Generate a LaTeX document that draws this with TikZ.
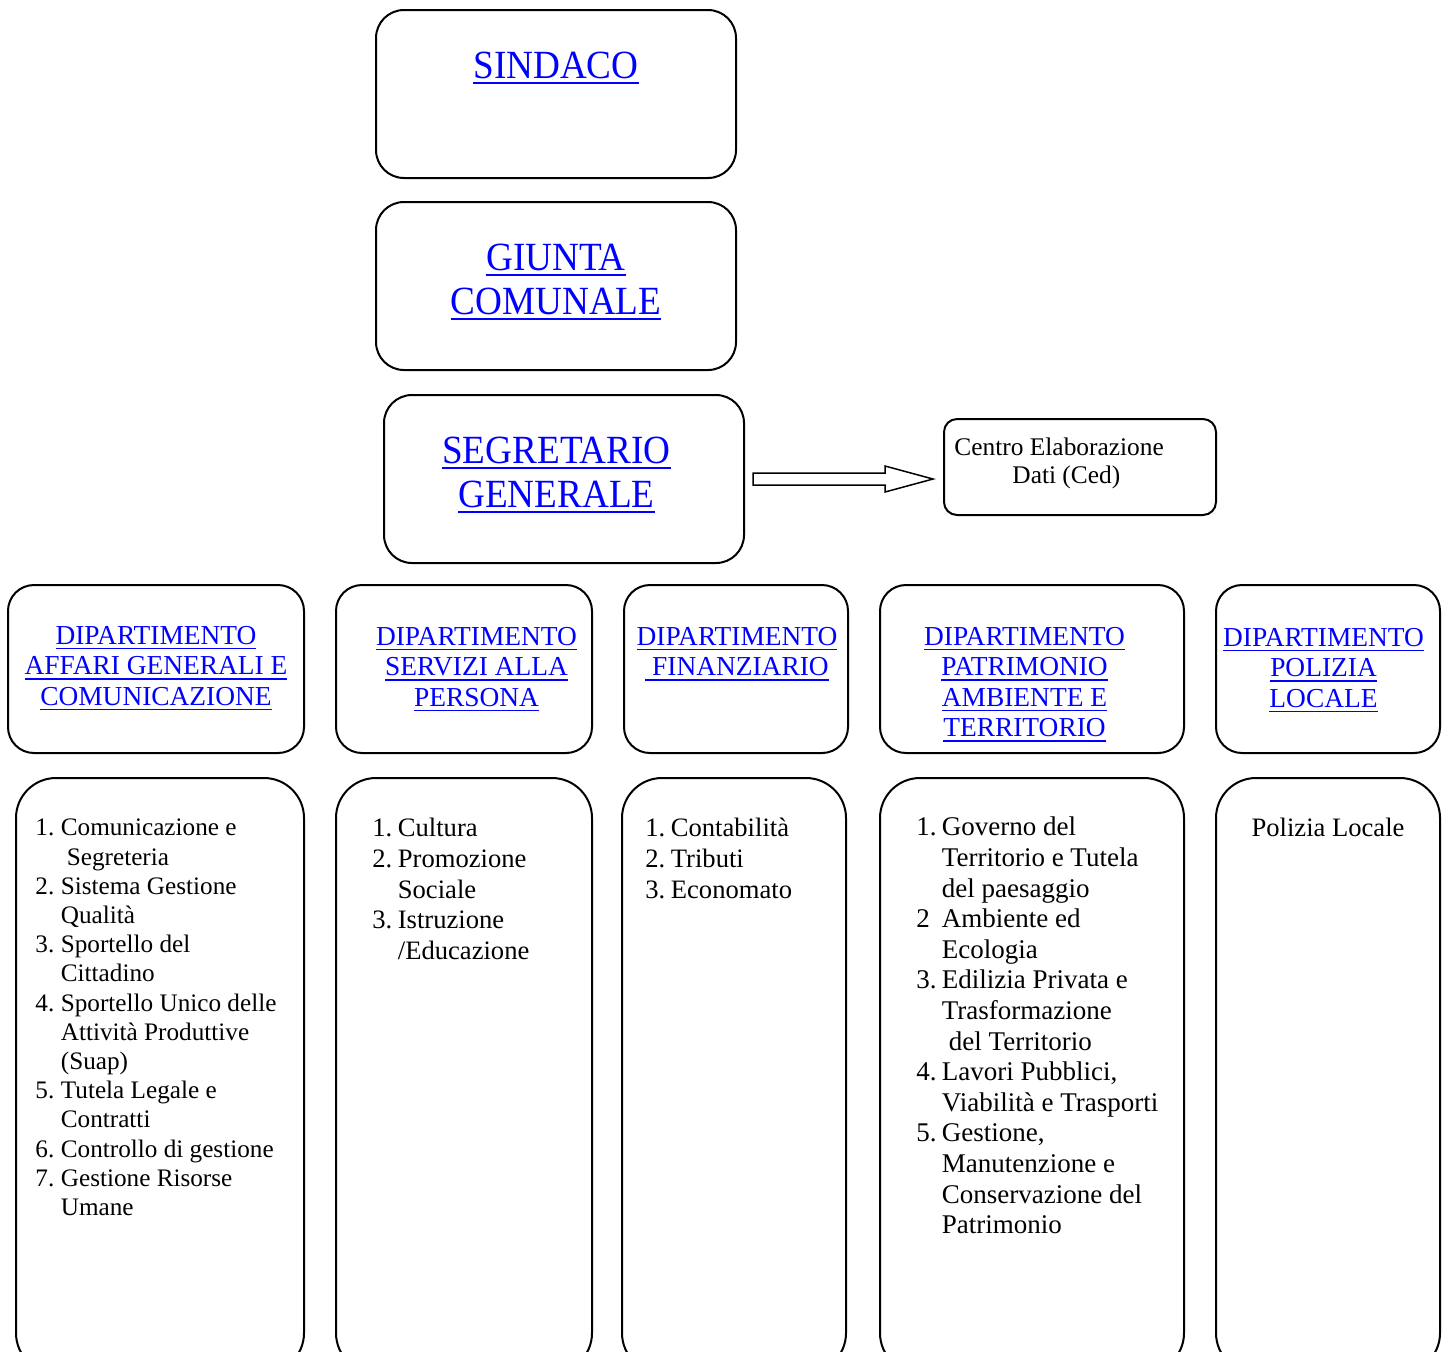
\documentclass[tikz,border=0pt]{standalone}
\usepackage{fontspec}
\setmainfont{Liberation Serif}
\newfontfamily\condserif[FakeStretch=0.93]{Liberation Serif}
\usetikzlibrary{calc}
\definecolor{linkblue}{RGB}{0,0,255}
\newsavebox\ulkbox
\newcommand\ulbig[1]{\sbox\ulkbox{#1}\rlap{\rule[-2.8pt]{\wd\ulkbox}{1pt}}\usebox\ulkbox}
\newcommand\ulsm[1]{\sbox\ulkbox{#1}\rlap{\rule[-2.4pt]{\wd\ulkbox}{0.75pt}}\usebox\ulkbox}
\newcommand\fls{\rule{0pt}{12pt}}
\newcommand\flb{\rule{0pt}{16pt}}
\newcommand\itm[1]{\makebox[12.75pt][l]{#1}}
\newcommand\cnt{\hspace*{12.75pt}}
\begin{document}
\begin{tikzpicture}[x=0.5pt,y=-0.5pt,
  topbox/.style={draw=black, line width=1pt, rounded corners=14pt, minimum width=180pt, minimum height=84pt, inner sep=0pt},
  cedbox/.style={draw=black, line width=1pt, rounded corners=6.5pt, minimum width=136pt, minimum height=48pt, inner sep=0pt},
  deptbox/.style={draw=black, line width=1pt, rounded corners=13pt, minimum width=#1, minimum height=84pt, inner sep=0pt},
  listbox/.style={draw=black, line width=1pt, rounded corners=20pt, minimum width=#1, minimum height=297.5pt, inner sep=0pt},
  bighead/.style={text=linkblue, font={\condserif\fontsize{20}{22}\selectfont}, align=center, anchor=north, inner sep=0pt},
  depthead/.style={text=linkblue, font={\fontsize{13.7}{15.25}\selectfont}, align=center, anchor=north, inner sep=0pt},
  listtext/.style={font={\fontsize{13.3}{15.3}\selectfont}, align=left, anchor=north west, inner sep=0pt},
  blockarrow/.style={draw=black, line width=0.75pt, line join=miter}
]
\useasboundingbox (0,0) rectangle (1449,1351);
\clip (0,0) rectangle (1449,1351);

% boxes
\node[topbox] (sind) at (556,94) {};
\node[topbox] (giun) at (556,286) {};
\node[topbox] (seg) at (564,479) {};
\node[cedbox] (ced) at (1080,467) {};
\node[deptbox=148pt] (d1) at (156,669) {};
\node[deptbox=128pt] (d2) at (464,669) {};
\node[deptbox=112pt] (d3) at (736,669) {};
\node[deptbox=152pt] (d4) at (1032,669) {};
\node[deptbox=112pt] (d5) at (1328,669) {};
\node[listbox=144pt] (b1) at (160,1075.5) {};
\node[listbox=128pt] (b2) at (464,1075.5) {};
\node[listbox=112pt] (b3) at (734,1075.5) {};
\node[listbox=152pt] (b4) at (1032,1075.5) {};
\node[listbox=112pt] (b5) at (1328,1075.5) {};

% headings
\node[bighead] (tsind) at (556,46) {\flb\ulbig{SINDACO}};
\node[bighead] (tgiun) at (556,238) {\flb\ulbig{GIUNTA}\\\ulbig{COMUNALE}};
\node[bighead] (tseg) at (556.5,431) {\flb\ulbig{SEGRETARIO}\\\ulbig{GENERALE}};

% block arrow
\draw[blockarrow] ($(seg.east)+(8,-6)$) -- ++(132,0) -- ++(0,-7) -- ++(48,13) -- ++(-48,13) -- ++(0,-7) -- ++(-132,0) -- cycle;

\node[font={\fontsize{12.7}{14}\selectfont}, align=left, anchor=north west, inner sep=0pt] (tced) at (954,431)
  {\fls Centro Elaborazione\\\hspace*{29pt}Dati (Ced)};

% department headings
\node[depthead] (td1) at (156,620) {\fls\ulsm{DIPARTIMENTO}\\\ulsm{AFFARI GENERALI E}\\\ulsm{COMUNICAZIONE}};
\node[depthead] (td2) at (476.5,621) {\fls\ulsm{DIPARTIMENTO}\\\ulsm{SERVIZI ALLA}\\\ulsm{PERSONA}};
\node[depthead] (td3) at (737,621) {\fls\ulsm{DIPARTIMENTO}\\\ulsm{\ FINANZIARIO}};
\node[depthead] (td4) at (1024.5,621) {\fls\ulsm{DIPARTIMENTO}\\\ulsm{PATRIMONIO}\\\ulsm{AMBIENTE E}\\\ulsm{TERRITORIO}};
\node[depthead] (td5) at (1323.5,622) {\fls\ulsm{DIPARTIMENTO}\\\ulsm{POLIZIA}\\\ulsm{LOCALE}};

% lists
\node[listtext, font={\fontsize{12.6}{14.6}\selectfont}] (l1) at (35,811.5) {\fls\itm{1.}Comunicazione e\\
\hspace*{15.75pt}Segreteria\\
\itm{2.}Sistema Gestione\\
\cnt Qualità\\
\itm{3.}Sportello del\\
\cnt Cittadino\\
\itm{4.}Sportello Unico delle\\
\cnt Attività Produttive\\
\cnt (Suap)\\
\itm{5.}Tutela Legale e\\
\cnt Contratti\\
\itm{6.}Controllo di gestione\\
\itm{7.}Gestione Risorse\\
\cnt Umane};

\node[listtext] (l2) at (372,812.5) {\fls\itm{1.}Cultura\\
\itm{2.}Promozione\\
\cnt Sociale\\
\itm{3.}Istruzione\\
\cnt /Educazione};

\node[listtext] (l3) at (645,812.5) {\fls\itm{1.}Contabilità\\
\itm{2.}Tributi\\
\itm{3.}Economato};

\node[listtext, font={\fontsize{13.5}{15.3}\selectfont}] (l4) at (916,811.5) {\fls\itm{1.}Governo del\\
\cnt Territorio e Tutela\\
\cnt del paesaggio\\
\itm{2}Ambiente ed\\
\cnt Ecologia\\
\itm{3.}Edilizia Privata e\\
\cnt Trasformazione\\
\hspace*{16.25pt}del Territorio\\
\itm{4.}Lavori Pubblici,\\
\cnt Viabilità e Trasporti\\
\itm{5.}Gestione,\\
\cnt Manutenzione e\\
\cnt Conservazione del\\
\cnt Patrimonio};

\node[font={\fontsize{13.3}{15.3}\selectfont}, anchor=north, inner sep=0pt] (l5) at (1328,812) {\fls Polizia Locale};
\end{tikzpicture}
\end{document}
